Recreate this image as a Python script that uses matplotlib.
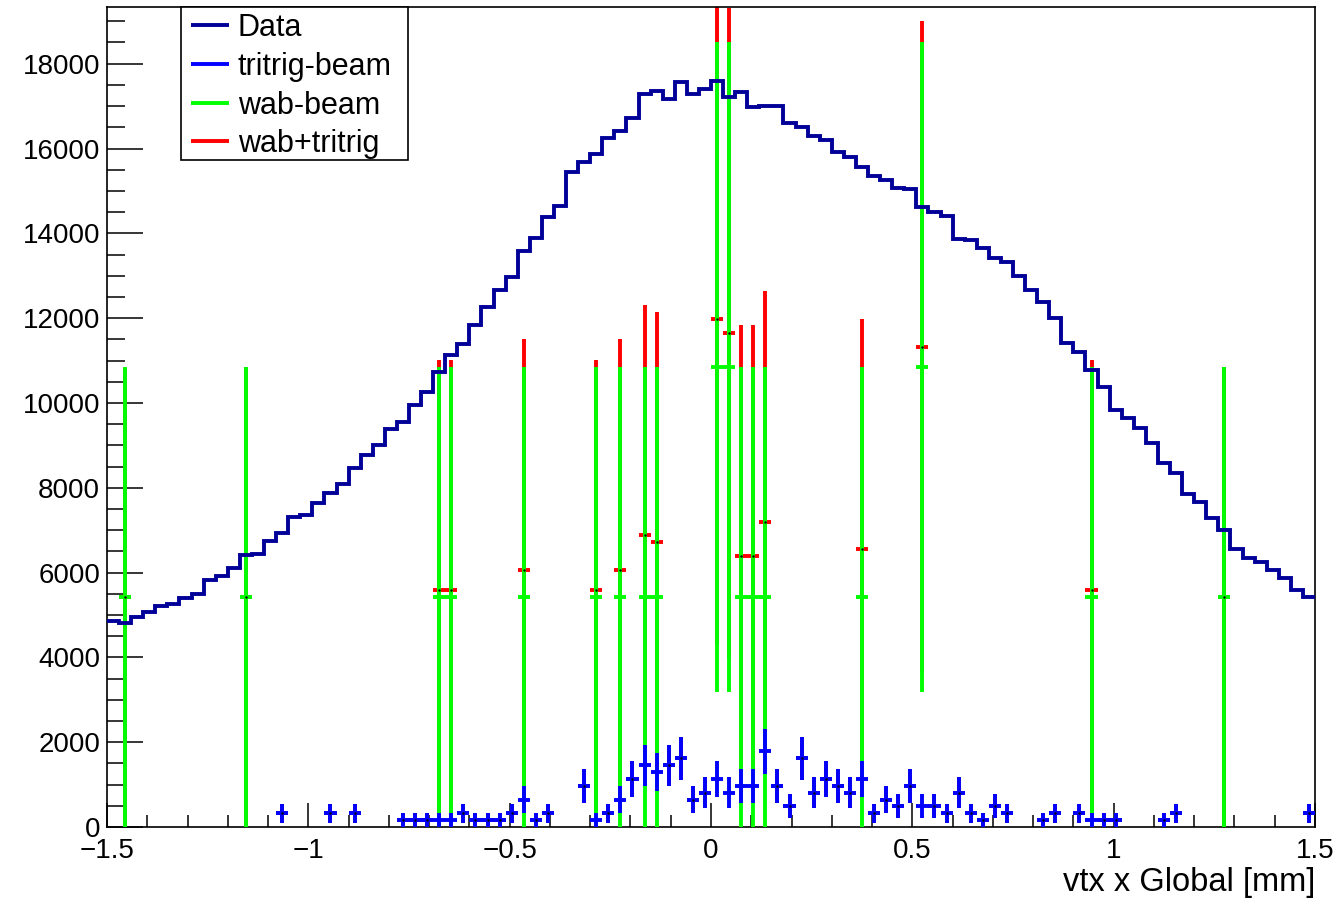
import numpy as np
import matplotlib.pyplot as plt
from matplotlib.patches import Rectangle
from matplotlib.ticker import MultipleLocator

plt.rcParams['font.family'] = ['Liberation Sans', 'DejaVu Sans']

# 100 bins between -1.5 and 1.5 mm
edges = np.linspace(-1.5, 1.5, 101)
centers = 0.5 * (edges[:-1] + edges[1:])
half_w = 0.015

data_counts = [4866, 4818, 4953, 5078, 5212, 5259, 5408, 5495, 5825, 5920,
               6116, 6415, 6439, 6752, 6941, 7318, 7358, 7642, 7877, 8090,
               8467, 8774, 9009, 9387, 9559, 9953, 10267, 10738, 11132, 11392,
               11840, 12271, 12665, 12965, 13592, 13899, 14380, 14646, 15455, 15691,
               15873, 16243, 16415, 16729, 17281, 17366, 17163, 17578, 17288, 17399,
               17594, 17224, 17342, 16974, 17012, 17012, 16597, 16517, 16297, 16203,
               15927, 15809, 15573, 15361, 15259, 15064, 15047, 14630, 14497, 14410,
               13861, 13844, 13663, 13413, 13333, 12995, 12665, 12389, 11998, 11408,
               11210, 10778, 10370, 9835, 9639, 9417, 9050, 8578, 8342, 7847,
               7658, 7281, 7005, 6550, 6337, 6243, 6061, 5866, 5590, 5417]

# tritrig-beam: weighted MC, bin index and number of entries
tritrig_bins = [14, 18, 20, 24, 25, 26, 27, 28, 29, 30, 31, 32, 33, 34, 35, 36,
                39, 40, 41, 42, 43, 44, 45, 46, 47, 48, 49, 50, 51, 52, 53, 54,
                55, 56, 57, 58, 59, 60, 61, 62, 63, 64, 65, 66, 67, 68, 69, 70,
                71, 72, 73, 74, 77, 78, 80, 81, 82, 83, 87, 88, 99]
tritrig_n = [2, 2, 2, 1, 1, 1, 1, 1, 2, 1, 1, 1, 2, 4, 1, 2,
             6, 1, 2, 4, 7, 9, 8, 9, 10, 4, 5, 7, 5, 6, 6, 11,
             6, 3, 10, 5, 7, 6, 5, 7, 2, 4, 3, 6, 3, 3, 2, 5,
             2, 1, 3, 2, 1, 2, 2, 1, 1, 1, 1, 2, 2]
tritrig_w = 162.0

# wab-beam: weighted MC
wab_bins = [1, 11, 27, 28, 34, 40, 42, 44, 45, 50, 51, 52, 53, 54, 62, 67, 81, 92]
wab_n = [1, 1, 1, 1, 1, 1, 1, 1, 1, 2, 2, 1, 1, 1, 1, 2, 1, 1]
wab_w = 5420.0

leg_labels = ['Data', 'tritrig-beam', 'wab-beam', 'wab+tritrig']

tri = np.zeros(100)
tri_e2 = np.zeros(100)
tri[tritrig_bins] = np.array(tritrig_n) * tritrig_w
tri_e2[tritrig_bins] = np.array(tritrig_n) * tritrig_w**2

wab = np.zeros(100)
wab_e2 = np.zeros(100)
wab[wab_bins] = np.array(wab_n) * wab_w
wab_e2[wab_bins] = np.array(wab_n) * wab_w**2

# wab+tritrig is the sum of the two histograms
tot = wab + tri
tot_e = np.sqrt(wab_e2 + tri_e2)

c_data = '#000099'
c_tri = '#0000ff'
c_wab = '#00ff00'
c_tot = '#ff0000'
lw = 2.8

fig = plt.figure(figsize=(13.41, 9.01), dpi=100)
ax = fig.add_axes([107/1341, 1-827/901, 1208/1341, (827-7.3)/901])

m = tot > 0
ax.errorbar(centers[m], tot[m], xerr=half_w, yerr=tot_e[m], fmt='none',
            ecolor=c_tot, elinewidth=lw, capsize=0, zorder=2)
m = wab > 0
ax.errorbar(centers[m], wab[m], xerr=half_w, yerr=np.sqrt(wab_e2[m]), fmt='none',
            ecolor=c_wab, elinewidth=lw, capsize=0, zorder=3)
m = tri > 0
ax.errorbar(centers[m], tri[m], xerr=half_w, yerr=np.sqrt(tri_e2[m]), fmt='none',
            ecolor=c_tri, elinewidth=lw, capsize=0, zorder=4)
m = tot > 0
ax.plot(centers[m], tot[m], '.', color='k', ms=1.5, zorder=4.5)

ax.stairs(data_counts, edges, color=c_data, lw=lw, baseline=None, zorder=5)

ax.set_xlim(-1.5, 1.5)
ax.set_ylim(0, 19330)
ax.xaxis.set_major_locator(MultipleLocator(0.5))
ax.xaxis.set_minor_locator(MultipleLocator(0.1))
ax.yaxis.set_major_locator(MultipleLocator(2000))
ax.yaxis.set_minor_locator(MultipleLocator(500))
ax.set_xticks([-1.5, -1, -0.5, 0, 0.5, 1, 1.5])
ax.set_xticklabels(['\u22121.5', '\u22121', '\u22120.5', '0', '0.5', '1', '1.5'])

ax.tick_params(axis='both', which='both', direction='in', labelsize=20,
               top=False, right=False, width=1.1, colors='black')
ax.tick_params(axis='y', which='major', length=26, pad=5)
ax.tick_params(axis='y', which='minor', length=13)
ax.tick_params(axis='x', which='major', length=17, pad=8)
ax.tick_params(axis='x', which='minor', length=8.5)
for s in ax.spines.values():
    s.set_linewidth(1.2)

ax.set_xlabel('vtx x Global [mm]', loc='right', fontsize=23.5, labelpad=2)

# ROOT-style legend box (drawn by hand for the fixed box size)
ax.add_patch(Rectangle((0.0613, 0.8137), 0.1879, 0.1863, transform=ax.transAxes,
                       facecolor='white', edgecolor='black', lw=1.2, zorder=10,
                       clip_on=False))
for i, (c, lab) in enumerate(zip((c_data, c_tri, c_wab, c_tot), leg_labels)):
    yy = 0.978 - i * 0.0472
    ax.plot([0.0693, 0.1013], [yy, yy], color=c, lw=lw, transform=ax.transAxes,
            zorder=11, clip_on=False, solid_capstyle='butt')
    ax.text(0.1084, yy - 0.0035, lab, transform=ax.transAxes, fontsize=22,
            va='center', ha='left', zorder=11)

fig.savefig('out.png', dpi=100)
